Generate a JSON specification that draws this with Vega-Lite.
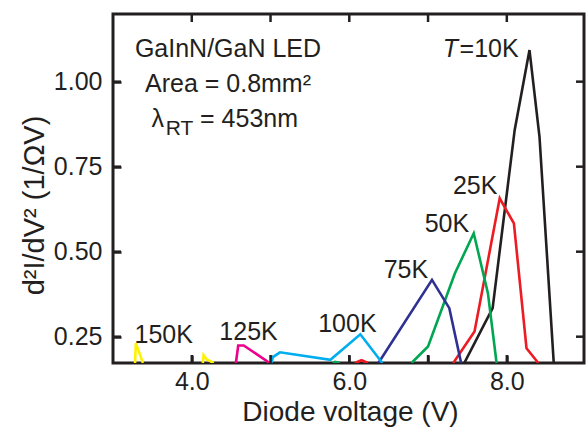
{
  "$schema": "https://vega.github.io/schema/vega-lite/v6.json",
  "width": 471,
  "height": 349,
  "autosize": {"type": "none"},
  "padding": {"left": 113, "top": 14, "right": 2, "bottom": 64},
  "background": "white",
  "config": {
    "view": {"stroke": "#231f20", "strokeWidth": 3},
    "font": "Liberation Sans",
    "axis": {
      "labelColor": "#231f20",
      "titleColor": "#231f20",
      "labelFont": "Liberation Sans",
      "titleFont": "Liberation Sans",
      "labelFontSize": 25,
      "titleFontWeight": "normal"
    }
  },
  "datasets": {
    "curves": [
      {"series": "10K", "seg": "10K", "V": 7.46, "val": 0.1726},
      {"series": "10K", "seg": "10K", "V": 7.82, "val": 0.334},
      {"series": "10K", "seg": "10K", "V": 8.10, "val": 0.858},
      {"series": "10K", "seg": "10K", "V": 8.288, "val": 1.093},
      {"series": "10K", "seg": "10K", "V": 8.415, "val": 0.838},
      {"series": "10K", "seg": "10K", "V": 8.596, "val": 0.1726},
      {"series": "25K", "seg": "25Ka", "V": 6.07, "val": 0.1726},
      {"series": "25K", "seg": "25Ka", "V": 6.155, "val": 0.1806},
      {"series": "25K", "seg": "25Ka", "V": 6.238, "val": 0.1726},
      {"series": "25K", "seg": "25Kb", "V": 7.32, "val": 0.1726},
      {"series": "25K", "seg": "25Kb", "V": 7.59, "val": 0.265},
      {"series": "25K", "seg": "25Kb", "V": 7.91, "val": 0.657},
      {"series": "25K", "seg": "25Kb", "V": 8.09, "val": 0.583},
      {"series": "25K", "seg": "25Kb", "V": 8.25, "val": 0.216},
      {"series": "25K", "seg": "25Kb", "V": 8.40, "val": 0.1726},
      {"series": "50K", "seg": "50Ka", "V": 5.79, "val": 0.1726},
      {"series": "50K", "seg": "50Ka", "V": 5.82, "val": 0.176},
      {"series": "50K", "seg": "50Ka", "V": 5.88, "val": 0.1726},
      {"series": "50K", "seg": "50Kb", "V": 6.79, "val": 0.1726},
      {"series": "50K", "seg": "50Kb", "V": 7.00, "val": 0.221},
      {"series": "50K", "seg": "50Kb", "V": 7.34, "val": 0.436},
      {"series": "50K", "seg": "50Kb", "V": 7.58, "val": 0.554},
      {"series": "50K", "seg": "50Kb", "V": 7.76, "val": 0.378},
      {"series": "50K", "seg": "50Kb", "V": 7.87, "val": 0.1726},
      {"series": "75K", "seg": "75K", "V": 6.37, "val": 0.1726},
      {"series": "75K", "seg": "75K", "V": 7.05, "val": 0.417},
      {"series": "75K", "seg": "75K", "V": 7.27, "val": 0.334},
      {"series": "75K", "seg": "75K", "V": 7.42, "val": 0.1726},
      {"series": "100K", "seg": "100K", "V": 5.01, "val": 0.1726},
      {"series": "100K", "seg": "100K", "V": 5.03, "val": 0.19},
      {"series": "100K", "seg": "100K", "V": 5.12, "val": 0.204},
      {"series": "100K", "seg": "100K", "V": 5.76, "val": 0.182},
      {"series": "100K", "seg": "100K", "V": 6.14, "val": 0.257},
      {"series": "100K", "seg": "100K", "V": 6.42, "val": 0.1726},
      {"series": "125K", "seg": "125K", "V": 4.56, "val": 0.1726},
      {"series": "125K", "seg": "125K", "V": 4.59, "val": 0.224},
      {"series": "125K", "seg": "125K", "V": 4.66, "val": 0.224},
      {"series": "125K", "seg": "125K", "V": 4.99, "val": 0.1726},
      {"series": "150K", "seg": "150Ka", "V": 3.28, "val": 0.1726},
      {"series": "150K", "seg": "150Ka", "V": 3.29, "val": 0.231},
      {"series": "150K", "seg": "150Ka", "V": 3.38, "val": 0.1726},
      {"series": "150K", "seg": "150Kb", "V": 4.14, "val": 0.1726},
      {"series": "150K", "seg": "150Kb", "V": 4.15, "val": 0.196},
      {"series": "150K", "seg": "150Kb", "V": 4.19, "val": 0.183},
      {"series": "150K", "seg": "150Kb", "V": 4.28, "val": 0.1726}
    ],
    "xTicks": [
      {"V": 4, "val": 0.1726}, {"V": 5, "val": 0.1726}, {"V": 6, "val": 0.1726}, {"V": 7, "val": 0.1726}, {"V": 8, "val": 0.1726},
      {"V": 4, "val": 1.199}, {"V": 5, "val": 1.199}, {"V": 6, "val": 1.199}, {"V": 7, "val": 1.199}, {"V": 8, "val": 1.199}
    ],
    "yTicks": [
      {"V": 3.0, "val": 0.25}, {"V": 3.0, "val": 0.5}, {"V": 3.0, "val": 0.75}, {"V": 3.0, "val": 1.0},
      {"V": 8.98, "val": 0.25}, {"V": 8.98, "val": 0.5}, {"V": 8.98, "val": 0.75}, {"V": 8.98, "val": 1.0}
    ],
    "notesCenter": [
      {"text": "GaInN/GaN LED", "V": 4.46, "val": 1.0735},
      {"text": "Area = 0.8mm²", "V": 4.46, "val": 0.9706}
    ],
    "notesLeft": [
      {"text": "=10K", "V": 7.40, "val": 1.0735},
      {"text": "25K", "V": 7.316, "val": 0.67},
      {"text": "50K", "V": 6.957, "val": 0.559},
      {"text": "75K", "V": 6.437, "val": 0.4218},
      {"text": "100K", "V": 5.605, "val": 0.2647},
      {"text": "125K", "V": 4.35, "val": 0.24},
      {"text": "150K", "V": 3.273, "val": 0.2306},
      {"text": "λ", "V": 3.49, "val": 0.8676},
      {"text": "= 453nm", "V": 4.105, "val": 0.8676}
    ],
    "notesItalic": [
      {"text": "T", "V": 7.188, "val": 1.0735}
    ],
    "notesSub": [
      {"text": "RT", "V": 3.67, "val": 0.843}
    ]
  },
  "layer": [
    {
      "data": {"name": "curves"},
      "mark": {"type": "line", "strokeWidth": 2.6, "clip": true, "strokeJoin": "miter"},
      "encoding": {
        "x": {
          "field": "V", "type": "quantitative",
          "scale": {"domain": [3.0, 8.98], "nice": false, "zero": false},
          "axis": {
            "orient": "bottom",
            "domain": false, "grid": false,
            "tickColor": "#231f20", "tickWidth": 2.5, "tickSize": -8,
            "values": [4, 5, 6, 7, 8],
            "labelExpr": "datum.value % 2 == 0 ? format(datum.value, '.1f') : ''",
            "labelPadding": 14,
            "title": "Diode voltage (V)",
            "titleFontSize": 28,
            "titleX": 237,
            "titleY": 57,
            "titleBaseline": "alphabetic",
            "titleAlign": "center"
          }
        },
        "y": {
          "field": "val", "type": "quantitative",
          "scale": {"domain": [0.1726, 1.199], "nice": false, "zero": false},
          "axis": {
            "orient": "left",
            "domain": false, "grid": false,
            "tickColor": "#231f20", "tickWidth": 2.5, "tickSize": -8,
            "values": [0.25, 0.5, 0.75, 1.0],
            "format": ".2f",
            "labelPadding": 19,
            "title": "d²I/dV²  (1/ΩV)",
            "titleFontSize": 29,
            "titleAngle": 270,
            "titleX": -70,
            "titleY": 191,
            "titleBaseline": "alphabetic",
            "titleAlign": "center"
          }
        },
        "color": {
          "field": "series", "type": "nominal", "legend": null,
          "scale": {
            "domain": ["10K", "25K", "50K", "75K", "100K", "125K", "150K"],
            "range": ["#231f20", "#ed1c24", "#00a651", "#2e3192", "#00aeef", "#ec008c", "#fff200"]
          }
        },
        "detail": {"field": "seg"}
      }
    },
    {
      "data": {"name": "xTicks"},
      "mark": {"type": "tick", "orient": "vertical", "size": 16, "thickness": 2.5, "color": "#231f20", "opacity": 1, "clip": true},
      "encoding": {
        "x": {"field": "V", "type": "quantitative"},
        "y": {"field": "val", "type": "quantitative"}
      }
    },
    {
      "data": {"name": "yTicks"},
      "mark": {"type": "tick", "orient": "horizontal", "size": 16, "thickness": 2.5, "color": "#231f20", "opacity": 1, "clip": true},
      "encoding": {
        "x": {"field": "V", "type": "quantitative"},
        "y": {"field": "val", "type": "quantitative"}
      }
    },
    {
      "data": {"name": "notesCenter"},
      "mark": {"type": "text", "fontSize": 25, "align": "center", "baseline": "alphabetic", "color": "#231f20"},
      "encoding": {
        "x": {"field": "V", "type": "quantitative"},
        "y": {"field": "val", "type": "quantitative"},
        "text": {"field": "text"}
      }
    },
    {
      "data": {"name": "notesLeft"},
      "mark": {"type": "text", "fontSize": 25, "align": "left", "baseline": "alphabetic", "color": "#231f20"},
      "encoding": {
        "x": {"field": "V", "type": "quantitative"},
        "y": {"field": "val", "type": "quantitative"},
        "text": {"field": "text"}
      }
    },
    {
      "data": {"name": "notesItalic"},
      "mark": {"type": "text", "fontSize": 25, "fontStyle": "italic", "align": "left", "baseline": "alphabetic", "color": "#231f20"},
      "encoding": {
        "x": {"field": "V", "type": "quantitative"},
        "y": {"field": "val", "type": "quantitative"},
        "text": {"field": "text"}
      }
    },
    {
      "data": {"name": "notesSub"},
      "mark": {"type": "text", "fontSize": 21, "align": "left", "baseline": "alphabetic", "color": "#231f20"},
      "encoding": {
        "x": {"field": "V", "type": "quantitative"},
        "y": {"field": "val", "type": "quantitative"},
        "text": {"field": "text"}
      }
    }
  ]
}
